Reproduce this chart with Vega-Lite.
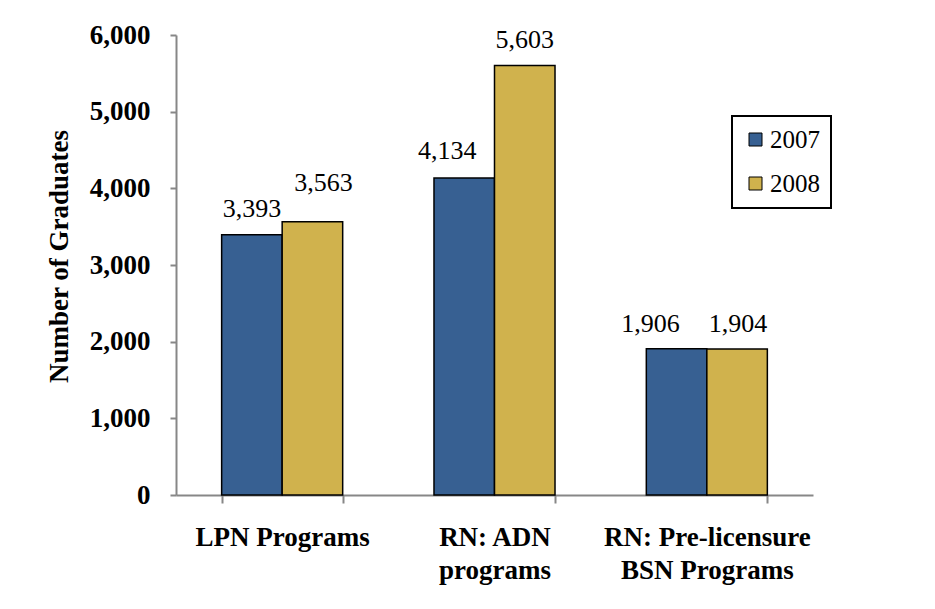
{
  "$schema": "https://vega.github.io/schema/vega-lite/v6.json",
  "width": 637,
  "height": 460,
  "autosize": {"type": "none"},
  "padding": {"left": 176, "top": 35, "right": 122, "bottom": 114},
  "background": "white",
  "config": {
    "view": {"stroke": null},
    "font": "Liberation Serif, Times New Roman, serif",
    "text": {"font": "Liberation Serif, Times New Roman, serif"}
  },
  "data": {
    "values": [
      {"program": "LPN Programs", "year": "2007", "graduates": 3393},
      {"program": "LPN Programs", "year": "2008", "graduates": 3563},
      {"program": "RN: ADN programs", "year": "2007", "graduates": 4134},
      {"program": "RN: ADN programs", "year": "2008", "graduates": 5603},
      {"program": "RN: Pre-licensure BSN Programs", "year": "2007", "graduates": 1906},
      {"program": "RN: Pre-licensure BSN Programs", "year": "2008", "graduates": 1904}
    ]
  },
  "encoding": {
    "x": {
      "field": "program",
      "type": "nominal",
      "sort": null,
      "scale": {"paddingInner": 0.43, "paddingOuter": 0.215},
      "axis": {
        "title": null,
        "labelAngle": 0,
        "labelFont": "Liberation Serif, Times New Roman, serif",
        "labelFontWeight": "bold",
        "labelFontSize": 27,
        "labelColor": "black",
        "labelPadding": 21,
        "labelLineHeight": 33,
        "labelBaseline": "top",
        "labelLimit": 0,
        "labelExpr": "datum.value == 'RN: ADN programs' ? ['RN: ADN', 'programs'] : datum.value == 'RN: Pre-licensure BSN Programs' ? ['RN: Pre-licensure', 'BSN Programs'] : datum.value",
        "domainColor": "#878787",
        "domainWidth": 2,
        "tickColor": "#878787",
        "tickWidth": 2,
        "tickSize": 8,
        "tickBand": "extent"
      }
    },
    "y": {
      "field": "graduates",
      "type": "quantitative",
      "scale": {"domain": [0, 6000], "nice": false},
      "axis": {
        "title": "Number of Graduates",
        "titleFont": "Liberation Serif, Times New Roman, serif",
        "titleFontWeight": "bold",
        "titleFontSize": 27,
        "titleColor": "black",
        "titlePadding": 16,
        "titleY": 221,
        "values": [0, 1000, 2000, 3000, 4000, 5000, 6000],
        "format": ",.0f",
        "grid": false,
        "labelFont": "Liberation Serif, Times New Roman, serif",
        "labelFontWeight": "bold",
        "labelFontSize": 27,
        "labelColor": "black",
        "labelPadding": 20,
        "domainColor": "#878787",
        "domainWidth": 2,
        "tickColor": "#878787",
        "tickWidth": 2,
        "tickSize": 6
      }
    },
    "xOffset": {"field": "year", "type": "nominal", "scale": {"paddingInner": 0, "paddingOuter": 0}}
  },
  "layer": [
    {
      "mark": {"type": "bar", "stroke": "black", "strokeWidth": 1.5},
      "encoding": {
        "color": {
          "field": "year",
          "type": "nominal",
          "scale": {"domain": ["2007", "2008"], "range": ["#376092", "#D0B24D"]},
          "legend": {
            "title": null,
            "orient": "none",
            "legendX": 556,
            "legendY": 81,
            "direction": "vertical",
            "padding": 11,
            "strokeColor": "black",
            "fillColor": "white",
            "symbolType": "square",
            "symbolSize": 169,
            "symbolStrokeColor": "black",
            "symbolStrokeWidth": 1,
            "symbolOpacity": 1,
            "symbolOffset": 0,
            "labelFont": "Liberation Serif, Times New Roman, serif",
            "labelFontSize": 25,
            "labelColor": "black",
            "labelOffset": 2,
            "rowPadding": 18,
            "encode": {"legend": {"update": {"strokeWidth": {"value": 2}}}}
          }
        }
      }
    },
    {
      "transform": [{"filter": {"and": [{"field": "program", "equal": "LPN Programs"}, {"field": "year", "equal": "2007"}]}}],
      "mark": {"type": "text", "baseline": "alphabetic", "align": "center", "dx": 0, "dy": -18, "fontSize": 26, "font": "Liberation Serif, Times New Roman, serif", "color": "black"},
      "encoding": {"text": {"field": "graduates", "type": "quantitative", "format": ",.0f"}}
    },
    {
      "transform": [{"filter": {"and": [{"field": "program", "equal": "LPN Programs"}, {"field": "year", "equal": "2008"}]}}],
      "mark": {"type": "text", "baseline": "alphabetic", "align": "center", "dx": 11, "dy": -31, "fontSize": 26, "font": "Liberation Serif, Times New Roman, serif", "color": "black"},
      "encoding": {"text": {"field": "graduates", "type": "quantitative", "format": ",.0f"}}
    },
    {
      "transform": [{"filter": {"and": [{"field": "program", "equal": "RN: ADN programs"}, {"field": "year", "equal": "2007"}]}}],
      "mark": {"type": "text", "baseline": "alphabetic", "align": "center", "dx": -17, "dy": -19, "fontSize": 26, "font": "Liberation Serif, Times New Roman, serif", "color": "black"},
      "encoding": {"text": {"field": "graduates", "type": "quantitative", "format": ",.0f"}}
    },
    {
      "transform": [{"filter": {"and": [{"field": "program", "equal": "RN: ADN programs"}, {"field": "year", "equal": "2008"}]}}],
      "mark": {"type": "text", "baseline": "alphabetic", "align": "center", "dx": 0, "dy": -17, "fontSize": 26, "font": "Liberation Serif, Times New Roman, serif", "color": "black"},
      "encoding": {"text": {"field": "graduates", "type": "quantitative", "format": ",.0f"}}
    },
    {
      "transform": [{"filter": {"and": [{"field": "program", "equal": "RN: Pre-licensure BSN Programs"}, {"field": "year", "equal": "2007"}]}}],
      "mark": {"type": "text", "baseline": "alphabetic", "align": "center", "dx": -26, "dy": -17, "fontSize": 26, "font": "Liberation Serif, Times New Roman, serif", "color": "black"},
      "encoding": {"text": {"field": "graduates", "type": "quantitative", "format": ",.0f"}}
    },
    {
      "transform": [{"filter": {"and": [{"field": "program", "equal": "RN: Pre-licensure BSN Programs"}, {"field": "year", "equal": "2008"}]}}],
      "mark": {"type": "text", "baseline": "alphabetic", "align": "center", "dx": 1, "dy": -17, "fontSize": 26, "font": "Liberation Serif, Times New Roman, serif", "color": "black"},
      "encoding": {"text": {"field": "graduates", "type": "quantitative", "format": ",.0f"}}
    }
  ]
}
